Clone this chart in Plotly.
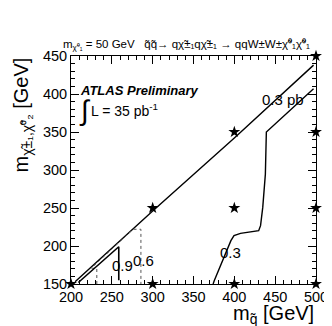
import plotly.graph_objects as go

# %% data
grid_x = [200, 300, 400, 500, 300, 400, 500, 400, 500, 500]
grid_y = [150, 150, 150, 150, 250, 250, 250, 350, 350, 450]

kin_x = [205, 300, 400, 497]
kin_y = [153, 246, 342, 438]

c09_x = [209, 258.5, 258.5]
c09_y = [152, 199, 155]

c06_x = [231.6, 231.6, 225, 276, 285.6, 285.6]
c06_y = [150, 170, 171, 222, 222, 150]

c03_x = [374, 375.5, 395.8, 399.6, 407.5, 429.8, 432.1, 434.8, 438, 438.8, 439.2, 497]
c03_y = [150, 154.7, 207, 213.7, 216.7, 220.2, 226.8, 250.8, 294.5, 346.9, 350, 407]

labels = ["0.9", "0.6", "0.3", "0.3 pb"]
label_x = [263, 289, 395, 459]
label_y = [175, 181, 191, 393]

# %% figure
font = "Liberation Sans, Arial, Helvetica, sans-serif"
fig = go.Figure()

fig.add_trace(go.Scatter(x=kin_x, y=kin_y, mode="lines", line=dict(color="black", width=1.4)))
fig.add_trace(go.Scatter(x=c06_x, y=c06_y, mode="lines", line=dict(color="#555555", width=1, dash="dot")))
fig.add_trace(go.Scatter(x=c09_x, y=c09_y, mode="lines", line=dict(color="black", width=1.6)))
fig.add_trace(go.Scatter(x=c03_x, y=c03_y, mode="lines", line=dict(color="black", width=1.4)))
fig.add_trace(go.Scatter(x=grid_x, y=grid_y, mode="markers",
                         marker=dict(symbol="star", size=9, color="black"), cliponaxis=False))

for t, x, y in zip(labels, label_x, label_y):
    fig.add_annotation(x=x, y=y, text=t, showarrow=False, font=dict(size=15, color="black"))

fig.add_annotation(x=0.03, y=0.85, xref="paper", yref="paper", text="<b><i>ATLAS Preliminary</i></b>",
                   showarrow=False, xanchor="left", yanchor="middle", font=dict(size=13, color="black"))
fig.add_annotation(x=0.025, y=0.76, xref="paper", yref="paper", text="∫",
                   showarrow=False, xanchor="left", yanchor="middle", font=dict(size=28, color="black"))
fig.add_annotation(x=0.075, y=0.765, xref="paper", yref="paper", text="L = 35 pb<sup>-1</sup>",
                   showarrow=False, xanchor="left", yanchor="middle", font=dict(size=14, color="black"))

# titles
fig.add_annotation(x=1.0, y=-0.072, xref="paper", yref="paper", text="m<sub>q̃</sub> [GeV]",
                   showarrow=False, xanchor="right", yanchor="top", font=dict(size=20, color="black"))
fig.add_annotation(x=-0.2, y=1.0, xref="paper", yref="paper", text="m<sub>χ̃±₁,χ̃⁰₂</sub> [GeV]",
                   showarrow=False, xanchor="center", yanchor="top", textangle=-90,
                   font=dict(size=20, color="black"))
fig.add_annotation(x=0.47, y=1.01, xref="paper", yref="paper",
                   text="m<sub>χ̃⁰₁</sub> = 50 GeV   q̃q̃→ qχ̃±₁qχ̃±₁ → qqW±W±χ̃⁰₁χ̃⁰₁",
                   showarrow=False, xanchor="center", yanchor="bottom", font=dict(size=11.5, color="black"))

axis = dict(showgrid=False, zeroline=False, showline=True, linecolor="black", linewidth=1,
            mirror="ticks", ticks="inside", ticklen=8, tickcolor="black", dtick=50,
            tickfont=dict(size=14.5, color="black"),
            minor=dict(dtick=10, ticks="inside", ticklen=4, tickcolor="black"))
fig.update_xaxes(range=[200, 500], **axis)
fig.update_yaxes(range=[150, 450], **axis)

fig.update_layout(width=332, height=326, margin=dict(l=63, r=13, t=48, b=50),
                  plot_bgcolor="white", paper_bgcolor="white", showlegend=False,
                  font=dict(family=font, color="black"))

fig.write_html("out.html")
